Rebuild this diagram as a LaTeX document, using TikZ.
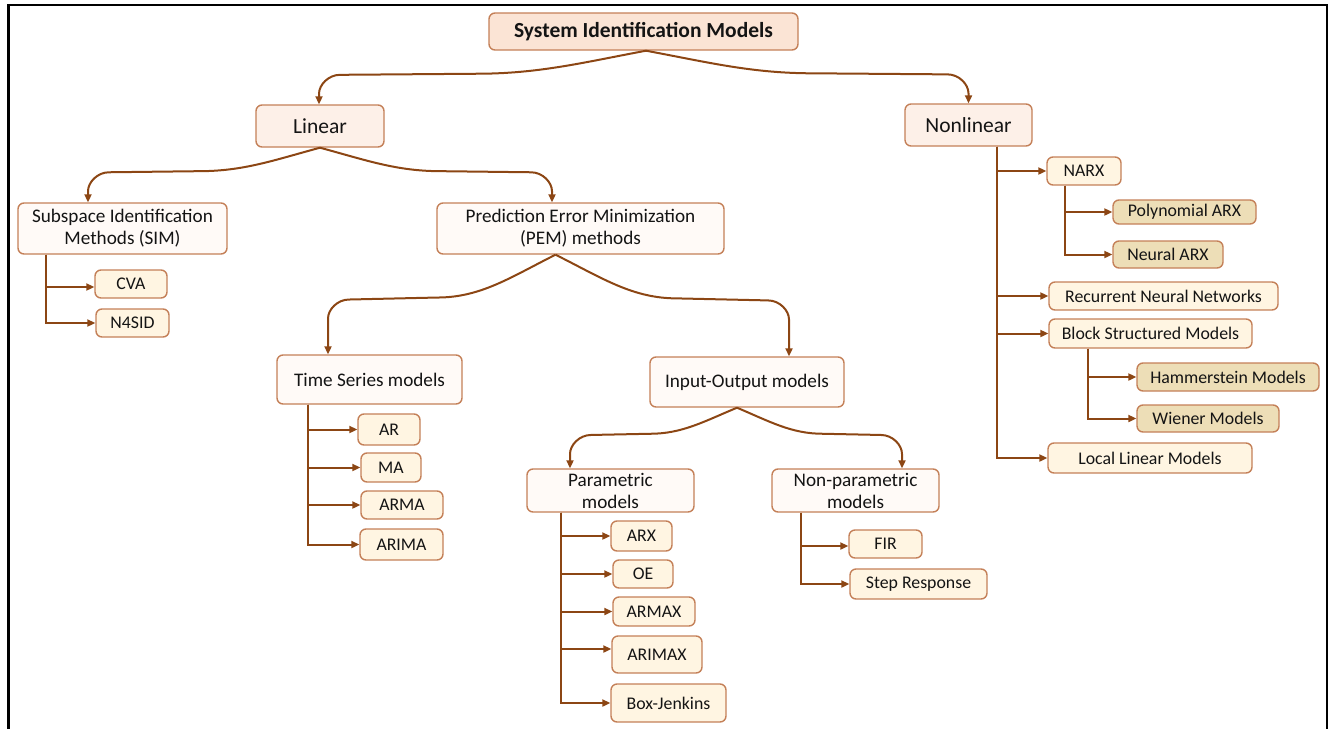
\documentclass[tikz,border=0pt]{standalone}
\usepackage{fontspec}
\setmainfont{Carlito}
\usetikzlibrary{arrows.meta,calc}

\definecolor{arrowc}{RGB}{140,70,20}
\definecolor{boxline}{RGB}{196,128,88}
\definecolor{txt}{RGB}{20,20,20}
\definecolor{fillA}{RGB}{251,228,213}
\definecolor{fillB}{RGB}{253,240,232}
\definecolor{fillC}{RGB}{255,250,247}
\definecolor{fillD}{RGB}{255,245,226}
\definecolor{fillE}{RGB}{237,222,183}

\tikzset{
  box/.style={draw=boxline, line width=1.4pt, rounded corners=6pt, inner sep=0pt,
    align=center, text=txt},
  sz/.style 2 args={minimum width=#1pt, minimum height=#2pt},
  lvlzero/.style={fill=fillA, font=\bfseries\fontsize{21.5}{24}\selectfont},
  lvlone/.style={fill=fillB, font=\fontsize{21.5}{24}\selectfont},
  lvltwo/.style={fill=fillC, font=\fontsize{19.2}{22}\selectfont},
  leaf/.style={fill=fillD, font=\fontsize{17.8}{20}\selectfont},
  leaftan/.style={fill=fillE, font=\fontsize{17.8}{20}\selectfont},
  conn/.style={draw=arrowc, line width=2pt, -{Triangle[length=8pt,width=7pt]}},
  % S-shaped branch: slopes away from the parent, runs level, then turns down
  swoop/.style={to path={
    let \p1=(\tikztostart), \p2=(\tikztotarget),
        \n1={\x2-\x1}, \n2={\y2-\y1}, \n3={sign(\x2-\x1)*21}
    in .. controls (\x1+0.2*\n1, \y1+0.23*\n2) and (\x1+0.33*\n1, \y1+0.43*\n2)
       .. (\x1+0.52*\n1, \y1+0.43*\n2)
       -- (\x2-\n3*1pt, \y1+0.45*\n2)
       .. controls (\x2-0.45*\n3*1pt, \y1+0.45*\n2) and (\x2, \y1+0.45*\n2-10pt)
       .. (\x2, \y1+0.45*\n2-19pt)
       -- (\tikztotarget)}},
}

\begin{document}
\begin{tikzpicture}[x=1pt,y=-1pt]
\useasboundingbox (0,0) rectangle (1335,728);

% outer frame (open at the bottom)
\begin{scope}
  \clip (0,0) rectangle (1335,728);
  \draw[line width=2.6pt] (8.7,760) -- (8.7,5) -- (1327,5) -- (1327,760);
\end{scope}

% ---- main levels
\node[box,lvlzero,sz={309}{37}] (title) at (643.5,31.5) {System Identification Models};
\node[box,lvlone,sz={128}{42}] (linear) at (320,126) {Linear};
\node[box,lvlone,sz={127}{42}] (nonlinear) at (968.5,125) {Nonlinear};

\node[box,lvltwo,sz={209}{51}] (sim) at (122.5,228.5) {Subspace Identification\\Methods (SIM)};
\node[box,lvltwo,sz={287}{51}] (pem) at (580.5,228.5) {Prediction Error Minimization\\(PEM) methods};
\node[box,lvltwo,sz={185}{49}] (ts) at (369.5,379.5) {Time Series models};
\node[box,lvltwo,sz={194}{50}] (io) at (747,382) {Input-Output models};
\node[box,lvltwo,sz={167}{43}] (param) at (610.5,490.5) {Parametric\\models};
\node[box,lvltwo,sz={167}{43}] (nonparam) at (855.5,490.5) {Non-parametric\\models};

% ---- linear leaves
\node[box,leaf,sz={72}{28}] (cva) at (131,284) {CVA};
\node[box,leaf,sz={73}{28}] (n4sid) at (132.5,323) {N4SID};

\node[box,leaf,sz={62}{31}] (ar) at (389,429.5) {AR};
\node[box,leaf,sz={60}{29}] (ma) at (391,467.5) {MA};
\node[box,leaf,sz={82}{28}] (arma) at (402,505) {ARMA};
\node[box,leaf,sz={83}{31}] (arima) at (401.5,544.5) {ARIMA};

\node[box,leaf,sz={61}{30}] (arx) at (641.5,536) {ARX};
\node[box,leaf,sz={60}{28}] (oe) at (643,574) {OE};
\node[box,leaf,sz={82}{29}] (armax) at (654,611.5) {ARMAX};
\node[box,leaf,sz={90}{37}] (arimax) at (657,654.5) {ARIMAX};
\node[box,leaf,sz={115}{38}] (bj) at (668.5,703) {Box-Jenkins};

\node[box,leaf,sz={73}{28}] (fir) at (885.5,544) {FIR};
\node[box,leaf,sz={137}{30}] (stepresp) at (918.5,584) {Step Response};

% ---- nonlinear leaves
\node[box,leaf,sz={74}{28}] (narx) at (1084,171) {NARX};
\node[box,leaftan,sz={143}{24}] (poly) at (1184.5,212) {Polynomial ARX};
\node[box,leaftan,sz={110}{27}] (neural) at (1168,254.5) {Neural ARX};
\node[box,leaf,sz={229}{28}] (rnn) at (1163.5,296) {Recurrent Neural Networks};
\node[box,leaf,sz={203}{29}] (block) at (1150.5,333.5) {Block Structured Models};
\node[box,leaftan,sz={182}{28}] (hamm) at (1228,377) {Hammerstein Models};
\node[box,leaftan,sz={142}{27}] (wiener) at (1208,418.5) {Wiener Models};
\node[box,leaf,sz={204}{30}] (local) at (1150,458) {Local Linear Models};

% ---- curved connectors
\draw[conn] ([xshift=2.5pt]title.south) to[swoop] ([xshift=-1pt]linear.north);
\draw[conn] ([xshift=2.5pt]title.south) to[swoop] (nonlinear.north);
\draw[conn] (linear.south) to[swoop] ([xshift=-34.5pt]sim.north);
\draw[conn] (linear.south) to[swoop] ([xshift=-28.5pt]pem.north);
\draw[conn] ([xshift=-25pt]pem.south) to[swoop] ([xshift=-41.5pt]ts.north);
\draw[conn] ([xshift=-25pt]pem.south) to[swoop] ([xshift=42pt]io.north);
\draw[conn] ([xshift=-10pt]io.south) to[swoop] ([xshift=-40.5pt]param.north);
\draw[conn] ([xshift=-10pt]io.south) to[swoop] ([xshift=46.5pt]nonparam.north);

% ---- elbow connectors
\draw[conn] ([xshift=29pt]sim.south west) |- ([yshift=-3pt]cva.west);
\draw[conn] ([xshift=29pt]sim.south west) |- (n4sid.west);

\draw[conn] ([xshift=32pt]ts.south west) |- (ar.west);
\draw[conn] ([xshift=32pt]ts.south west) |- (ma.west);
\draw[conn] ([xshift=32pt]ts.south west) |- (arma.west);
\draw[conn] ([xshift=32pt]ts.south west) |- (arima.west);

\draw[conn] ([xshift=35pt]param.south west) |- (arx.west);
\draw[conn] ([xshift=35pt]param.south west) |- (oe.west);
\draw[conn] ([xshift=35pt]param.south west) |- (armax.west);
\draw[conn] ([xshift=35pt]param.south west) |- ([yshift=5.5pt]arimax.west);
\draw[conn] ([xshift=35pt]param.south west) |- (bj.west);

\draw[conn] ([xshift=30pt]nonparam.south west) |- ([yshift=-2pt]fir.west);
\draw[conn] ([xshift=30pt]nonparam.south west) |- (stepresp.west);

\draw[conn] ([xshift=93pt]nonlinear.south west) |- (narx.west);
\draw[conn] ([xshift=93pt]nonlinear.south west) |- (rnn.west);
\draw[conn] ([xshift=93pt]nonlinear.south west) |- (block.west);
\draw[conn] ([xshift=93pt]nonlinear.south west) |- (local.west);

\draw[conn] ([xshift=19pt]narx.south west) |- (poly.west);
\draw[conn] ([xshift=19pt]narx.south west) |- (neural.west);

\draw[conn] ([xshift=40pt]block.south west) |- (hamm.west);
\draw[conn] ([xshift=40pt]block.south west) |- (wiener.west);
\end{tikzpicture}
\end{document}
